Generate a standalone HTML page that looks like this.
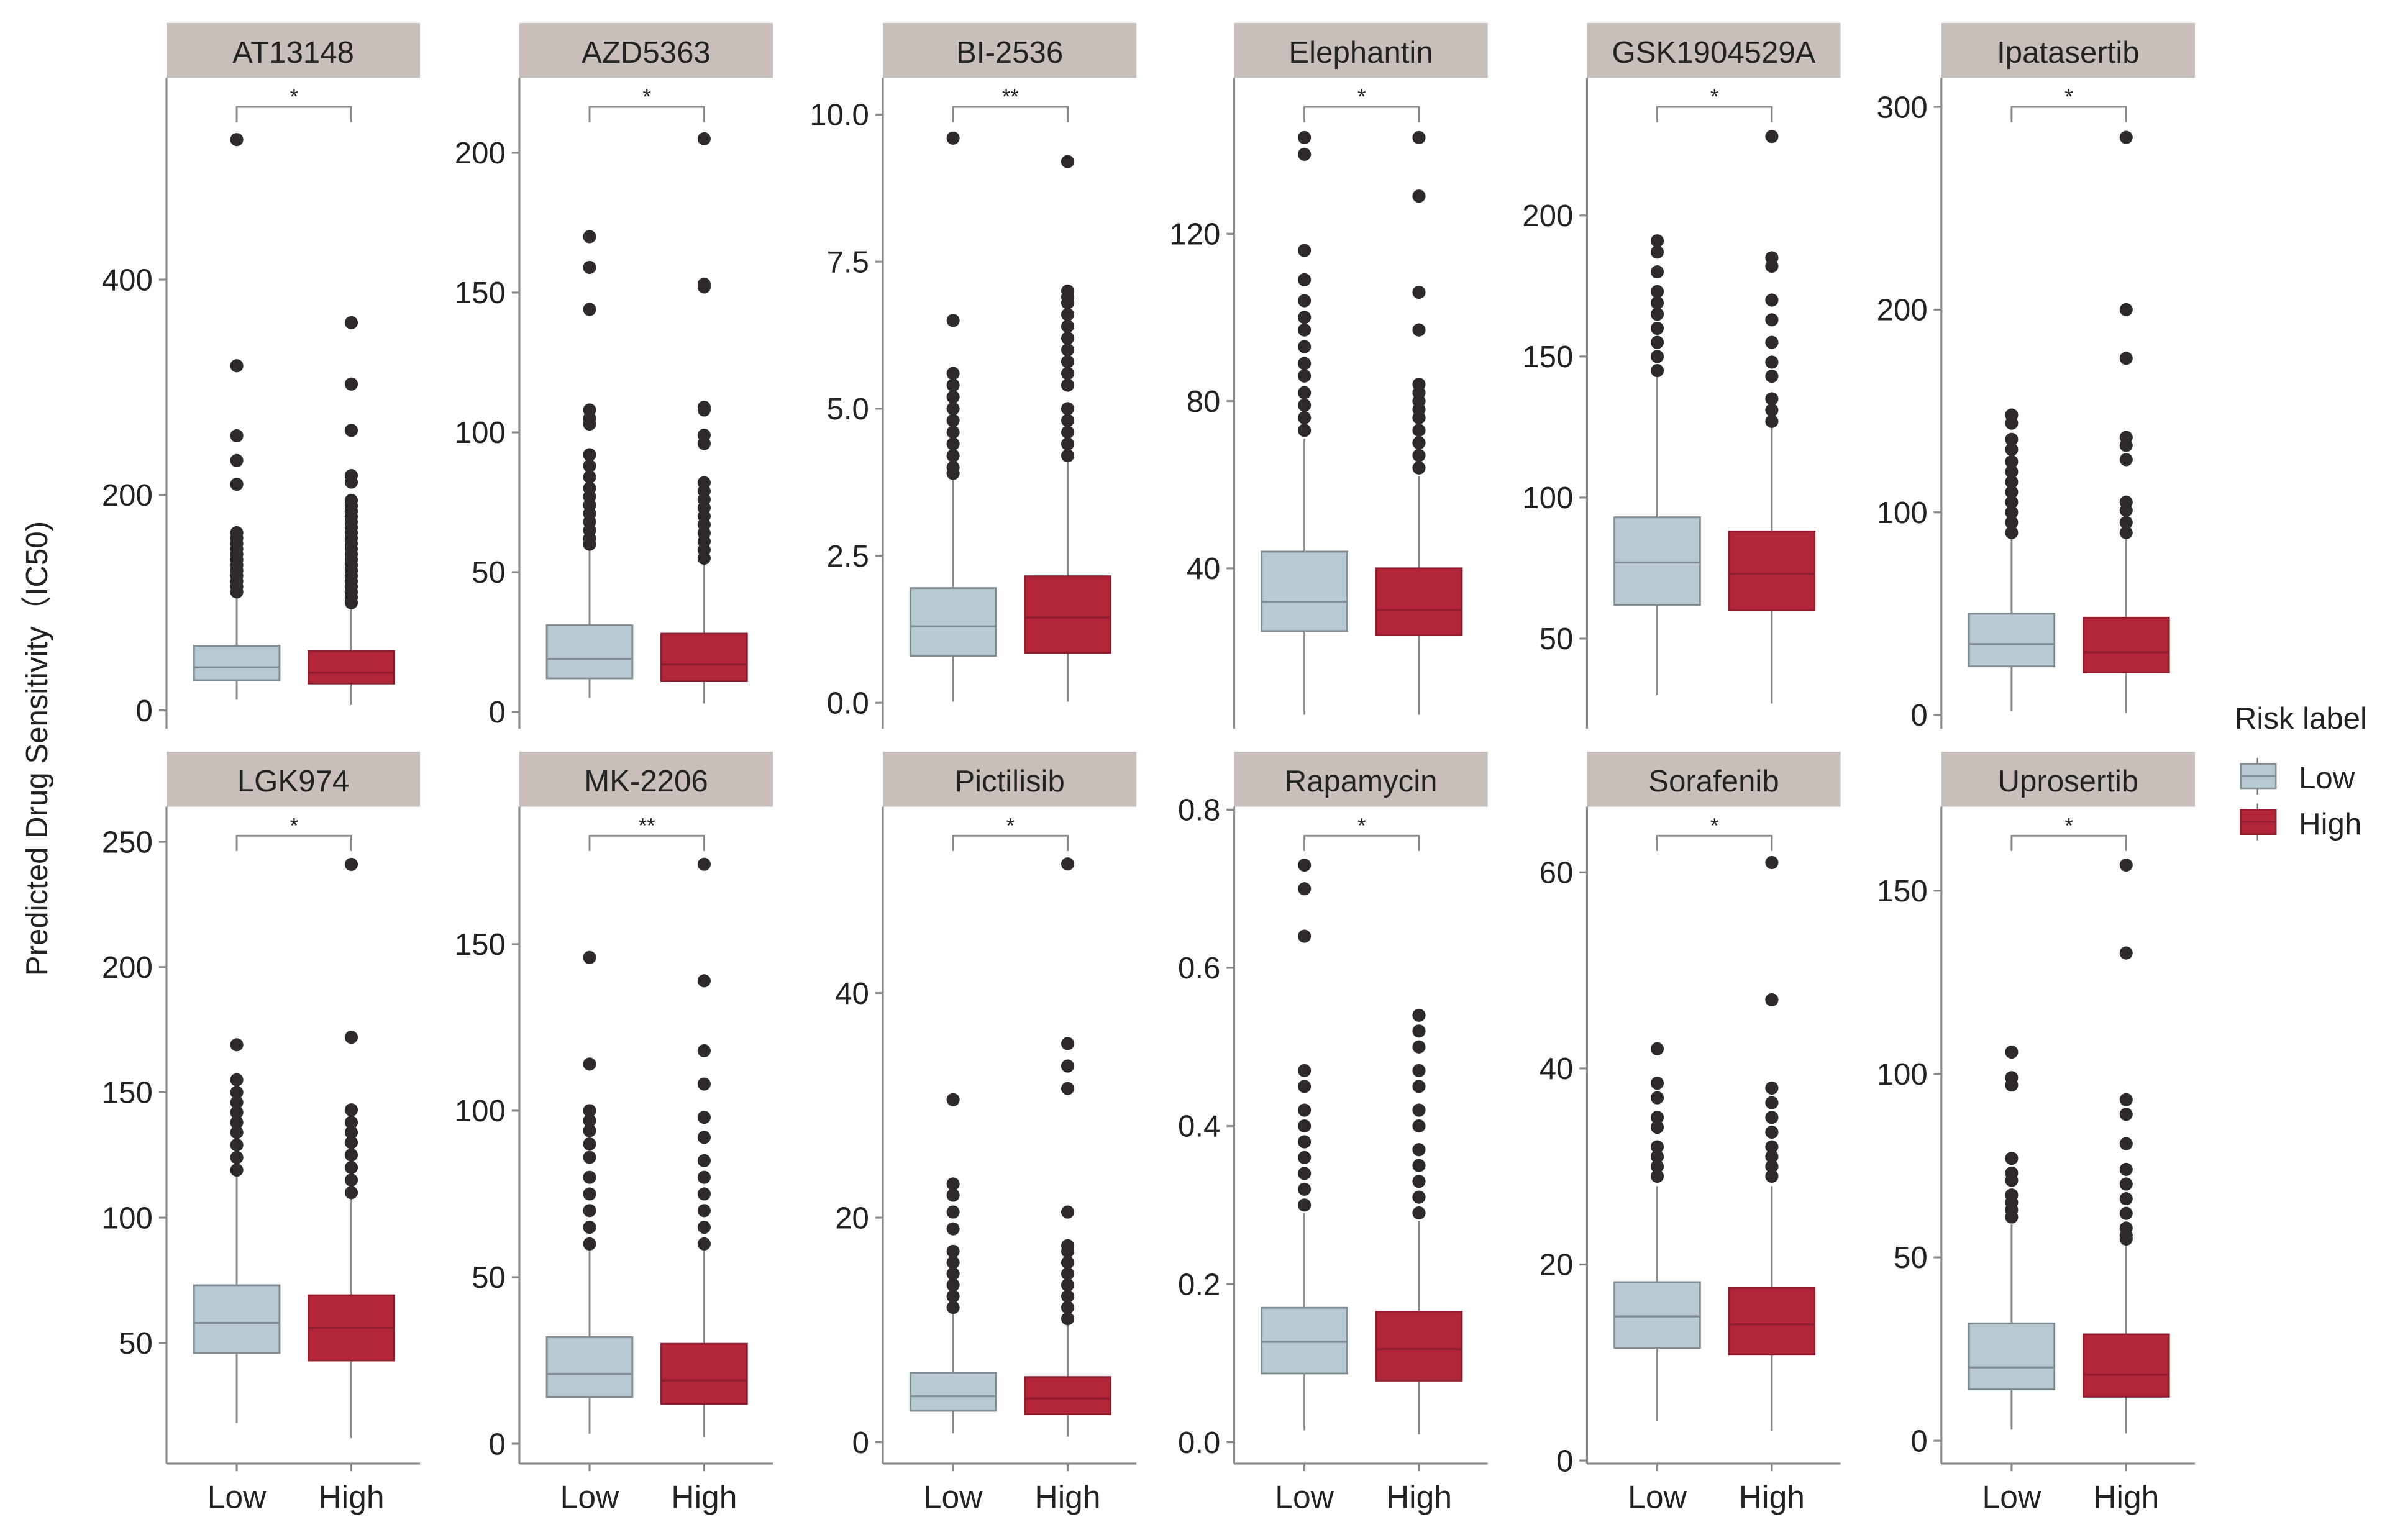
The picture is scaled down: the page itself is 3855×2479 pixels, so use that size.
<!DOCTYPE html>
<html><head><meta charset="utf-8">
<style>
html,body{margin:0;padding:0;background:#fff;}
svg{display:block;font-family:"Liberation Sans","Noto Sans CJK SC",sans-serif;}
</style></head>
<body>
<svg id="chart" width="3855" height="2479" viewBox="0 0 1568 1008" preserveAspectRatio="none" xmlns="http://www.w3.org/2000/svg">
<text transform="translate(31,490) rotate(-90)" text-anchor="middle" font-size="20" fill="#222">Predicted Drug Sensitivity（IC50)</text>
<text x="1463" y="477" font-size="20" fill="#222">Risk label</text>
<g>
<line x1="1478" y1="496" x2="1478" y2="520" stroke="#777" stroke-width="1"/>
<rect x="1467" y="500" width="23" height="16" fill="#b8c9d2" stroke="#7f8c93"/>
<line x1="1467" y1="508" x2="1490" y2="508" stroke="#7f8c93"/>
<text x="1505" y="516" font-size="20" fill="#222">Low</text></g>
<g>
<line x1="1478" y1="526" x2="1478" y2="550" stroke="#777" stroke-width="1"/>
<rect x="1467" y="530" width="23" height="16" fill="#b3263a" stroke="#8e1d2d"/>
<line x1="1467" y1="538" x2="1490" y2="538" stroke="#8e1d2d"/>
<text x="1505" y="546" font-size="20" fill="#222">High</text></g>
</svg>
<script>
const drugs = ["AT13148","AZD5363","BI-2536","Elephantin","GSK1904529A","Ipatasertib","LGK974","MK-2206","Pictilisib","Rapamycin","Sorafenib","Uprosertib"];
const signif = ["*","*","**","*","*","*","*","**","*","*","*","*"];
const tickValues = [[0,200,400],[0,50,100,150,200],[0,2.5,5,7.5,10],[40,80,120],[50,100,150,200],[0,100,200,300],[50,100,150,200,250],[0,50,100,150],[0,20,40],[0,0.2,0.4,0.6,0.8],[0,20,40,60],[0,50,100,150]];
const tickLabels = [["0","200","400"],["0","50","100","150","200"],["0.0","2.5","5.0","7.5","10.0"],["40","80","120"],["50","100","150","200"],["0","100","200","300"],["50","100","150","200","250"],["0","50","100","150"],["0","20","40"],["0.0","0.2","0.4","0.6","0.8"],["0","20","40","60"],["0","50","100","150"]];
const axisLo = [0,0,0,40,50,0,50,0,0,0,0,0];
const axisHi = [400,200,10,120,200,300,250,150,40,0.8,60,150];
// box stats [whiskerLow, q1, median, q3, whiskerHigh]
const lowBox = [[10,28,40,60,105],[5,12,19,31,58],[0.02,0.8,1.3,1.95,3.8],[5,25,32,44,71],[30,62,77,93,143],[2,24,35,50,88],[18,46,58,73,117],[3,14,21,32,58],[0.8,2.8,4.1,6.2,11.5],[0.015,0.087,0.127,0.17,0.29],[4,11.5,14.7,18.2,28],[3,14,20,32,59]];
const highBox = [[5,25,35,55,98],[3,11,17,28,53],[0.02,0.85,1.45,2.15,4.1],[5,24,30,40,62],[27,60,73,88,125],[1,21,31,48,88],[12,43,56,69,108],[2,12,19,30,58],[0.5,2.5,3.9,5.8,11],[0.01,0.078,0.118,0.165,0.28],[3,10.8,13.9,17.6,28],[2,12,18,29,54]];
const lowOut = [
[530,320,255,232,210,165,160,155,150,145,140,135,130,125,120,115,110],
[170,159,144,108,105,103,92,88,84,80,77,74,71,68,65,62,60],
[9.6,6.5,5.6,5.4,5.2,5.0,4.8,4.6,4.4,4.2,4.0,3.9],
[143,139,116,109,104,100,97,93,89,86,82,79,76,73],
[191,187,180,173,169,165,160,155,150,145],
[148,144,136,131,125,120,115,110,105,100,95,90],
[169,155,150,146,142,138,134,129,124,119],
[146,114,100,97,94,90,86,80,75,70,65,60],
[30.5,23,22,20.5,19,17,16,15,14,13,12],
[0.73,0.70,0.64,0.47,0.45,0.42,0.40,0.38,0.36,0.34,0.32,0.30],
[42,38.5,37,35,34,32,31,30,29],
[106,99,97,77,73,71,67,65,63,61]];
const highOut = [
[360,303,260,218,212,195,190,185,180,175,170,165,160,155,150,145,140,135,130,125,120,115,110,105,100],
[205,153,152,109,108,99,96,82,79,76,73,70,67,64,61,58,55],
[9.2,7.0,6.9,6.8,6.6,6.4,6.2,6.0,5.8,5.6,5.4,5.0,4.8,4.6,4.4,4.2],
[143,129,106,97,84,82,80,78,76,73,70,67,64],
[228,185,182,170,163,155,148,143,135,131,127],
[285,200,176,137,133,126,105,101,95,90],
[241,172,143,138,134,130,125,120,115,110],
[174,139,118,108,98,92,85,80,75,70,65,60],
[51.5,35.5,33.5,31.5,20.5,17.5,17,16,15,14,13,12,11],
[0.54,0.52,0.50,0.47,0.45,0.42,0.40,0.37,0.35,0.33,0.31,0.29],
[61,47,38,36.5,35,33.5,32,31,30,29],
[157,133,93,89,81,74,70,66,62,58,56,55]];

const colX = [109,340,578,808,1039,1271];
const panelW = 166;
const calib = [[465,183],[466,100],[460,75],[372,153],[418,141],[468,70],[879,551],[945,618],[944,650],[944,530],[956,571],[943,583]];
const NS = "http://www.w3.org/2000/svg";
const svg = document.getElementById('chart');
function mk(tag, attrs, parent){const e=document.createElementNS(NS,tag);for(const k in attrs)e.setAttribute(k,attrs[k]);(parent||svg).appendChild(e);return e;}

drugs.forEach((name,i)=>{
  const row = Math.floor(i/6), col = i%6;
  const x0 = colX[col], top = row===0?15:492, stripH = 36;
  const plotTop = top+stripH, plotBot = row===0?477:958;
  const yScale = v => calib[i][0] + (v-axisLo[i])/(axisHi[i]-axisLo[i])*(calib[i][1]-calib[i][0]);
  const g = mk('g',{});
  
  
  const strip = mk('rect',{x:x0,y:top,width:panelW,height:stripH,fill:'#c8bfbb'},g);
  
  
  const st = mk('text',{x:x0+panelW/2,y:top+26,'text-anchor':'middle','font-size':20,fill:'#222'},g);
  st.textContent = name;
  
  
  const ax = mk('line',{x1:x0,y1:plotTop,x2:x0,y2:plotBot,stroke:'#8a8a8a','stroke-width':1.3},g);
  
  
  tickValues[i].forEach((v,k)=>{
    const y = yScale(v);
    mk('line',{x1:x0-5,y1:y,x2:x0,y2:y,stroke:'#8a8a8a','stroke-width':1.3},g);
    const t = mk('text',{x:x0-9,y:y+7,'text-anchor':'end','font-size':20,fill:'#222'},g);
    t.textContent = tickLabels[i][k];
    
    
  });
  const xL = x0+46, xH = x0+121, bw = 56;
  if(row===1){
    const xa = mk('line',{x1:x0,y1:plotBot,x2:x0+panelW,y2:plotBot,stroke:'#8a8a8a','stroke-width':1.3},g);
    
    
    [[xL,'Low'],[xH,'High']].forEach(([x,l])=>{
      mk('line',{x1:x,y1:plotBot,x2:x,y2:plotBot+5,stroke:'#8a8a8a','stroke-width':1.3},g);
      const t = mk('text',{x:x,y:plotBot+29,'text-anchor':'middle','font-size':21,fill:'#222'},g);
      t.textContent = l;
      
      
    });
  }
  const by = plotTop+19;
  const br = mk('path',{d:`M${xL},${by+10}V${by}H${xH}V${by+10}`,fill:'none',stroke:'#8a8a8a','stroke-width':1.2},g);
  
  
  const sg = mk('text',{x:(xL+xH)/2,y:by-2,'text-anchor':'middle','font-size':14,fill:'#222'},g);
  sg.textContent = signif[i];
  
  
  [[xL,lowBox[i],lowOut[i],'#b8c9d2','#7f8c93','low'],[xH,highBox[i],highOut[i],'#b3263a','#8e1d2d','high']].forEach(([cx,b,outs,fill,stroke,lab])=>{
    const wl = mk('line',{x1:cx,y1:yScale(b[0]),x2:cx,y2:yScale(b[4]),stroke:'#8a8a8a','stroke-width':1.2},g);
    
    
    const r = mk('rect',{x:cx-bw/2,y:yScale(b[3]),width:bw,height:yScale(b[1])-yScale(b[3]),fill:fill,stroke:stroke,'stroke-width':1.2},g);
    
    
    const md = mk('line',{x1:cx-bw/2,y1:yScale(b[2]),x2:cx+bw/2,y2:yScale(b[2]),stroke:stroke,'stroke-width':1.3},g);
    
    
    outs.forEach(v=>{
      const c = mk('circle',{cx:cx,cy:yScale(v),r:4.3,fill:'#2f2a2a'},g);
      
      
    });
  });
});
</script>
</body></html>
